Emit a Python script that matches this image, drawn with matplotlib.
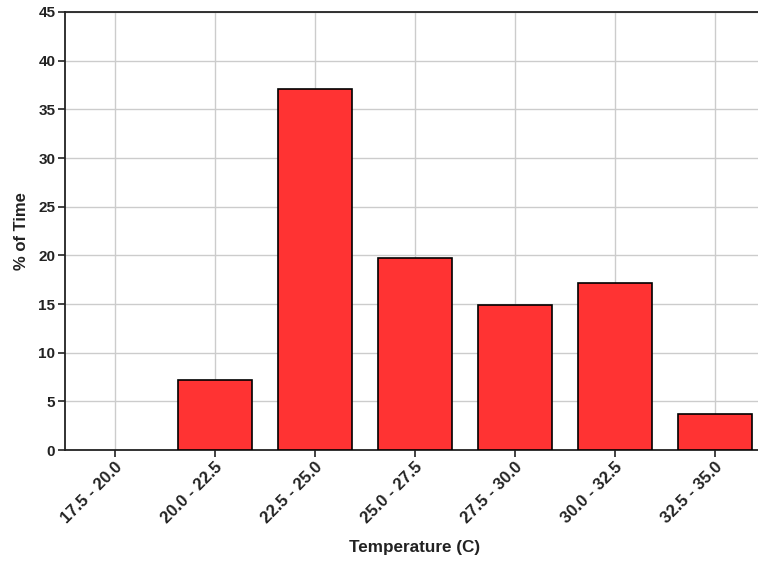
import matplotlib
matplotlib.use("Agg")
import matplotlib.pyplot as plt

categories = ["17.5 - 20.0", "20.0 - 22.5", "22.5 - 25.0", "25.0 - 27.5",
              "27.5 - 30.0", "30.0 - 32.5", "32.5 - 35.0"]
values = [0.0, 7.2, 37.1, 19.7, 14.9, 17.2, 3.7]
yticks = [0, 5, 10, 15, 20, 25, 30, 35, 40, 45]

plt.rcParams['font.family'] = ['Liberation Sans', 'DejaVu Sans']

W, H = 758, 561
fig = plt.figure(figsize=(W / 100, H / 100), dpi=100)
ax = fig.add_axes([65 / W, (H - 450) / H, 700 / W, 438 / H])

x = list(range(len(categories)))
edges = ["black" if v > 0 else "none" for v in values]
ax.bar(x, values, width=0.74, color="#FF3333", edgecolor=edges, linewidth=1.2, zorder=3)

ax.set_xlim(-0.5, len(categories) - 0.5)
ax.set_ylim(0, 45)
ax.set_yticks(yticks)
ax.set_xticks(x)
ax.set_xticklabels(categories, rotation=45, ha="right", rotation_mode="anchor",
                   fontsize=12, fontweight="bold", color="#222222")
for lbl in ax.get_yticklabels():
    lbl.set_fontsize(11)
    lbl.set_fontweight("bold")
    lbl.set_color("#222222")

ax.grid(True, color="#cccccc", linewidth=1, zorder=0)
ax.set_axisbelow(True)
for s in ax.spines.values():
    s.set_color("#222222")
    s.set_linewidth(1.3)
ax.tick_params(axis="both", direction="out", length=5, width=1.2, color="#222222", pad=2)

ax.set_xlabel("Temperature (C)", fontsize=12.3, fontweight="bold", color="#222222", labelpad=10)
ax.set_ylabel("% of Time", fontsize=12, fontweight="bold", color="#222222", labelpad=7)

fig.savefig("out.png", dpi=100)
